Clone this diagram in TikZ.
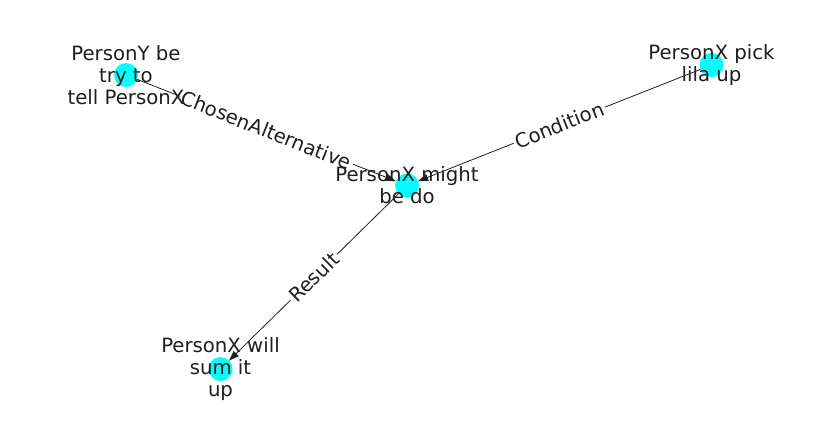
\documentclass[tikz,border=0pt]{standalone}
\usepackage{fontspec}
\setmainfont{DejaVu Sans}
\usetikzlibrary{arrows.meta}
\definecolor{aqua}{RGB}{0,255,255}
\definecolor{ink}{RGB}{30,30,30}
\begin{document}
\begin{tikzpicture}[x=1pt,y=-1pt,
  dot/.style={circle,fill=aqua,draw=none,minimum size=24pt,inner sep=0pt,outer sep=0pt},
  txt/.style={align=center,font=\fontsize{19.7}{22}\selectfont,text=ink,inner sep=0pt},
  elabel/.style={font=\fontsize{19.7}{22}\selectfont,text=ink,fill=white,inner sep=2pt},
  edge/.style={-{Triangle[length=10pt,width=7pt]},line width=0.8pt,ink}]
\useasboundingbox (0,0) rectangle (837,434);
\node[dot] (y) at (126,75) {};
\node[dot] (p) at (711.5,65) {};
\node[dot] (c) at (407,185.5) {};
\node[dot] (s) at (220.5,369) {};
\draw[edge] (y) -- (c) node[pos=0.5,sloped,elabel] (ly) {ChosenAlternative};
\draw[edge] (p) -- (c) node[pos=0.5,sloped,elabel] (lp) {Condition};
\draw[edge] (c) -- (s) node[pos=0.5,sloped,elabel] (ls) {Result};
\node[txt] (ty) at (126,75) {PersonY be\\try to\\tell PersonX};
\node[txt] (tp) at (711.5,65) {PersonX pick\\lila up};
\node[txt] (tc) at (407,185.5) {PersonX might\\be do};
\node[txt] (ts) at (220.5,369) {PersonX will\\sum it\\up};
\end{tikzpicture}
\end{document}
